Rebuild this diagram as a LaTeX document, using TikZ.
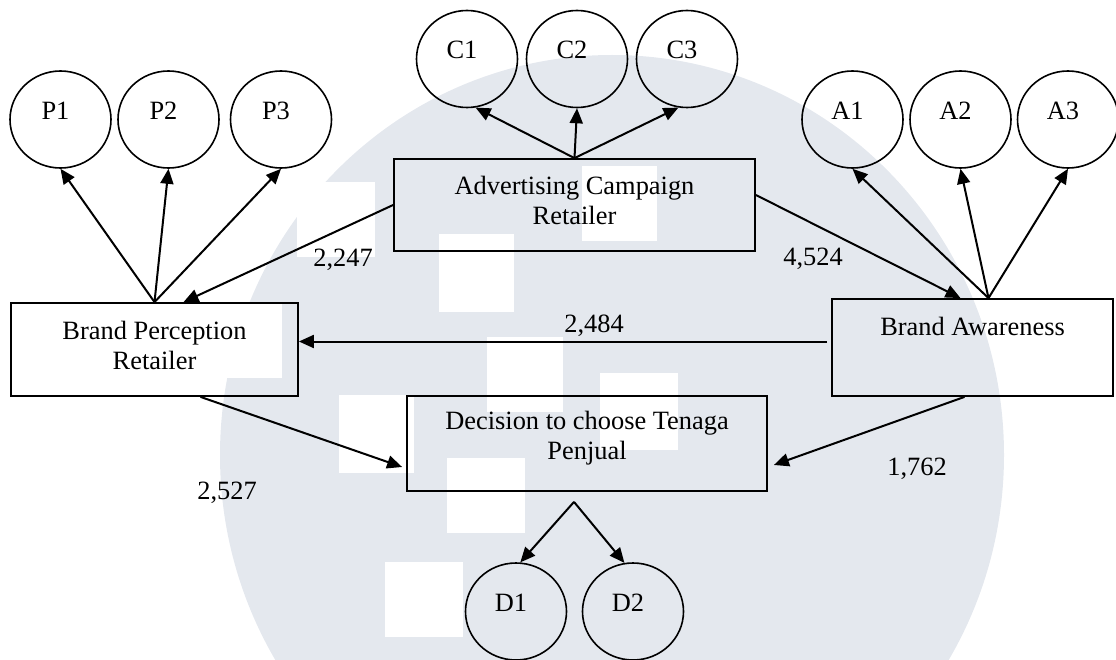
\documentclass[tikz,border=0pt]{standalone}
\usepackage{fontspec}
\setmainfont{Liberation Serif}
\usetikzlibrary{shapes.geometric, arrows.meta, calc}
\definecolor{wmgray}{RGB}{228,232,238}
\begin{document}
\begin{tikzpicture}[x=1pt, y=-1pt,
  every node/.style={font=\fontsize{26.4}{30}\selectfont},
  latent/.style={ellipse, draw, line width=1.6pt, minimum width=101pt, minimum height=97pt, inner sep=0pt,
    label={[xshift=-5pt, yshift=9pt]center:#1}},
  construct/.style={rectangle, draw, line width=1.8pt, inner sep=0pt},
  boxtext/.style={align=center, yshift=#1},
  link/.style={line width=2pt, -{Triangle[length=15pt,width=13pt]}},
  coef/.style={inner sep=0pt},
]
\useasboundingbox (0,0) rectangle (1116,660);
% watermark
\begin{scope}
  \clip (0,0) rectangle (1116,660);
  \fill[wmgray] (612,455) ellipse [x radius=392, y radius=400];
  \fill[white] (439,234) rectangle (514,312);
  \fill[white] (582,166) rectangle (657,241);
  \fill[white] (487,337) rectangle (563,412);
  \fill[white] (600,373) rectangle (678,450);
  \fill[white] (339,395) rectangle (414,473);
  \fill[white] (447,458) rectangle (525,533);
  \fill[white] (385,562) rectangle (463,637);
  \fill[white] (297,182) rectangle (375,257);
  \fill[white] (206,302) rectangle (282,378);
\end{scope}

% indicator ellipses
\node[latent=P1] (P1) at (60.5,119.5) {};
\node[latent=P2] (P2) at (168.5,119.5) {};
\node[latent=P3] (P3) at (281,119.5) {};
\node[latent=C1] (C1) at (467,59) {};
\node[latent=C2] (C2) at (577,59) {};
\node[latent=C3] (C3) at (687,59) {};
\node[latent=A1] (A1) at (852.5,119.5) {};
\node[latent=A2] (A2) at (960.5,119.5) {};
\node[latent=A3] (A3) at (1068,119.5) {};
\node[latent=D1] (D1) at (516,611.5) {};
\node[latent=D2] (D2) at (633,611.5) {};

% constructs
\node[construct, minimum width=287pt, minimum height=93pt,
  label={[boxtext=4.5pt]center:{Brand Perception\\Retailer}}] (BP) at (154.5,349.5) {};
\node[construct, minimum width=361pt, minimum height=92pt,
  label={[boxtext=4.5pt]center:{Advertising Campaign\\Retailer}}] (Adv) at (574.5,205) {};
\node[construct, minimum width=281pt, minimum height=97pt,
  label={[boxtext=21.5pt]center:{Brand Awareness}}] (BA) at (972.5,347.5) {};
\node[construct, minimum width=360pt, minimum height=95pt,
  label={[boxtext=5.5pt]center:{Decision to choose Tenaga\\Penjual}}] (Dec) at (587,443.5) {};

% coefficients
\node[coef] (k1) at (343,260) {2,247};
\node[coef] (k2) at (813,259) {4,524};
\node[coef] (k3) at (594,326) {2,484};
\node[coef] (k4) at (227,493) {2,527};
\node[coef] (k5) at (917,469) {1,762};

% loadings
\draw[link] (BP.north) -- (P1.south);
\draw[link] (BP.north) -- (P2.south);
\draw[link] (BP.north) -- (P3.south);
\draw[link] (Adv.north) -- (C1.-80);
\draw[link] (Adv.north) -- (C2.south);
\draw[link] (Adv.north) -- (C3.-100);
\coordinate (baTop) at ($(BA.north)+(16,0)$);
\draw[link] (baTop) -- (A1.south);
\draw[link] (baTop) -- (A2.south);
\draw[link] (baTop) -- (A3.south);
\coordinate (dsplit) at ($(Dec.south)+(-13,10)$);
\draw[link] (dsplit) -- (D1.85);
\draw[link] (dsplit) -- (D2.100);

% structural paths
\draw[link] (Adv.west) -- ($(BP.north)+(29,0)$);
\draw[link] ($(Adv.east)+(0,-10)$) -- ($(BA.north)+(-12,0)$);
\coordinate (hstart) at ($(BA.west)+(-4,-6)$);
\draw[link] (hstart) -- (BP.east |- hstart);
\draw[link] ($(BP.south)+(46,0)$) -- ($(Dec.west)+(-4,23.5)$);
\draw[link] ($(BA.south)+(-8,0)$) -- ($(Dec.east)+(6,21.5)$);
\end{tikzpicture}
\end{document}
